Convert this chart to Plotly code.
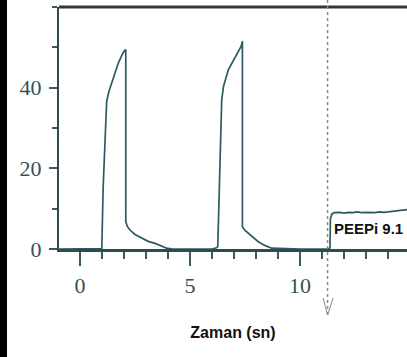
import plotly.graph_objects as go

# ---- data ----
time_s = [-0.95, 0.0, 0.5, 0.9, 0.99, 1.05, 1.21, 1.3, 1.44, 1.6, 1.74, 1.9, 2.02, 2.08,
          2.08, 2.15, 2.27, 2.5, 2.8, 3.1, 3.41, 3.7, 3.94, 4.2,
          6.0, 6.2, 6.26, 6.44, 6.52, 6.74, 7.05, 7.32, 7.38,
          7.38, 7.5, 7.65, 7.85, 8.1, 8.4, 8.71, 10.0, 11.3,
          11.36, 11.38, 11.45, 11.55, 11.8, 12.0, 12.2, 12.4, 12.6, 12.8, 13.0,
          13.2, 13.4, 13.6, 13.8, 14.0, 14.2, 14.4, 14.6, 14.9]
pressure = [0.0, 0.1, 0.2, 0.15, 0.1, 15.0, 36.5, 38.8, 41.1, 43.8, 46.1, 48.0, 49.2, 49.4,
            6.8, 5.6, 4.7, 3.6, 2.65, 1.9, 1.4, 0.8, 0.2, 0.0,
            0.0, 0.3, 0.6, 37.0, 40.3, 44.4, 47.7, 50.2, 51.5,
            5.5, 4.6, 3.9, 2.8, 1.8, 0.9, 0.2, 0.0, 0.0,
            0.3, 7.5, 8.7, 9.0, 9.1, 8.9, 9.1, 9.0, 9.2, 9.0, 9.1,
            9.1, 9.0, 9.2, 9.1, 9.2, 9.3, 9.5, 9.6, 9.8]

x_range = [-0.955, 14.86]
y_range = [0, 60]
x_major_ticks = [0, 5, 10, 15]
y_major_ticks = [0, 20, 40]
marker_time = 11.25
peep_label = "PEEPi 9.1"
x_title = "Zaman (sn)"

# ---- layout geometry ----
W, H = 407, 357
ML, MR, MT, MB = 59, 0, 7, 108
PW, PH = W - ML - MR, H - MT - MB

def px_to_paper_y(py):
    return (H - MB - py) / PH

def px_to_paper_x(px):
    return (px - ML) / PW

trace_col = "#2b5a60"
axis_col = "#2e4b50"
tick_font = dict(family="Liberation Serif, Times New Roman, serif", size=22, color="#2f5358")
sans = "Liberation Sans, Arial, sans-serif"

fig = go.Figure()
fig.add_trace(go.Scatter(x=time_s, y=pressure, mode="lines",
                         line=dict(color=trace_col, width=1.7), showlegend=False,
                         hoverinfo="skip"))

fig.update_layout(
    width=W, height=H, autosize=False,
    margin=dict(l=ML, r=MR, t=MT, b=MB, pad=0),
    paper_bgcolor="white", plot_bgcolor="white",
    xaxis=dict(range=x_range, showgrid=False, zeroline=False,
               showline=True, linecolor=axis_col, linewidth=3,
               ticks="outside", tickmode="array", tickvals=x_major_ticks,
               ticktext=[str(v) for v in x_major_ticks],
               ticklen=14, tickwidth=1.5, tickcolor="#3a5a60",
               minor=dict(dtick=1, tick0=0, ticks="outside", ticklen=7,
                          tickwidth=1.5, tickcolor="#3a5a60", showgrid=False),
               tickfont=tick_font, ticklabelstandoff=1,
               title=dict(text="<b>" + x_title + "</b>", standoff=30,
                          font=dict(family=sans, size=16, color="#111111"))),
    yaxis=dict(range=y_range, showgrid=False, zeroline=False,
               showline=True, linecolor=axis_col, linewidth=2,
               ticks="outside", tickmode="array", tickvals=y_major_ticks,
               ticktext=[str(v) for v in y_major_ticks],
               ticklen=8, tickwidth=1.5, tickcolor="#3a5a60",
               minor=dict(dtick=10, tick0=0, ticks="outside", ticklen=5,
                          tickwidth=1.5, tickcolor="#3a5a60", showgrid=False),
               tickfont=tick_font, ticklabelstandoff=3),
)

shapes = []
# top border of the plot frame
shapes.append(dict(type="line", xref="paper", yref="paper", x0=0, x1=1, y0=1, y1=1,
                   line=dict(color="#2f3a40", width=3)))
# dotted marker line with open arrow head
shapes.append(dict(type="line", xref="x", yref="paper", x0=marker_time, x1=marker_time,
                   y0=px_to_paper_y(0), y1=px_to_paper_y(315),
                   line=dict(color="#8a8a8a", width=1.5, dash="dot")))
shapes.append(dict(type="line", xref="x", yref="paper", x0=marker_time - 0.2, x1=marker_time,
                   y0=px_to_paper_y(298), y1=px_to_paper_y(315),
                   line=dict(color="#8a8a8a", width=1)))
shapes.append(dict(type="line", xref="x", yref="paper", x0=marker_time + 0.25, x1=marker_time,
                   y0=px_to_paper_y(298), y1=px_to_paper_y(315),
                   line=dict(color="#8a8a8a", width=1)))
# scan edge (black strip on left)
shapes.append(dict(type="rect", xref="paper", yref="paper",
                   x0=px_to_paper_x(0), x1=px_to_paper_x(7),
                   y0=px_to_paper_y(H), y1=px_to_paper_y(0),
                   fillcolor="black", line=dict(width=0)))
fig.update_layout(shapes=shapes)

fig.add_annotation(x=11.5, y=5.2, xref="x", yref="y", text="<b>" + peep_label + "</b>",
                   showarrow=False, xanchor="left", yanchor="middle", borderpad=0,
                   font=dict(family=sans, size=15, color="#111111"))

fig.write_html("out.html")
